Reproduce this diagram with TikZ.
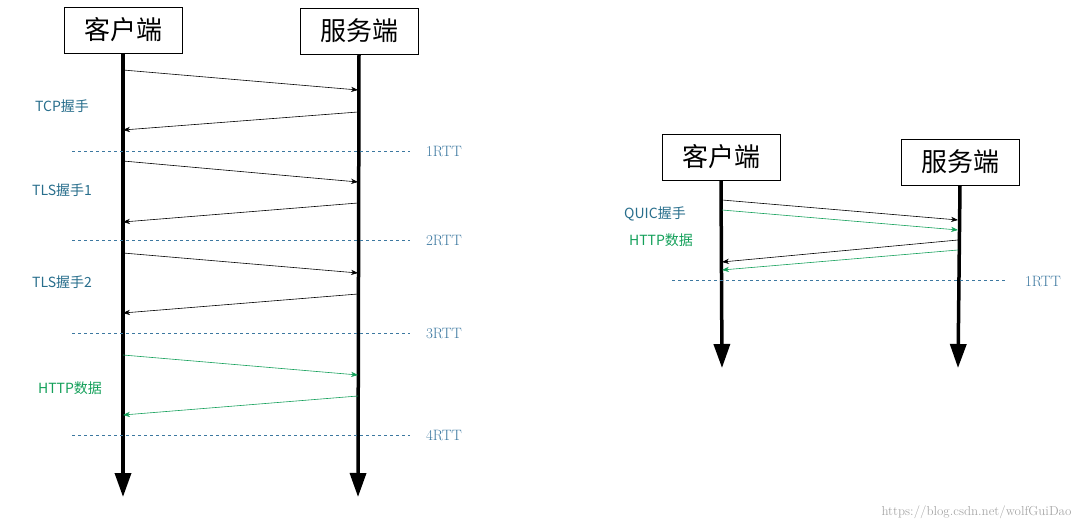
\documentclass[tikz,border=0pt]{standalone}
\usepackage{fontspec}
\newfontfamily\cjk{Noto Sans CJK SC}
\usetikzlibrary{arrows.meta,positioning}
\definecolor{tealtext}{RGB}{40,110,140}
\definecolor{msggreen}{RGB}{20,160,90}
\definecolor{rttblue}{RGB}{60,120,160}
\tikzset{
  party/.style={draw,line width=0.8pt,font=\cjk\fontsize{26}{28}\selectfont,inner sep=2pt,minimum width=118pt,minimum height=46pt},
  life/.style={line width=3.5pt,-{Triangle[length=24pt,width=16pt]}},
  msg/.style={-{Stealth[length=7pt]},line width=0.6pt},
  data/.style={msg,msggreen},
  rtt/.style={dashed,rttblue,line width=0.7pt},
  phase/.style={tealtext,font=\cjk\fontsize{14}{16}\selectfont},
  rttlabel/.style={rttblue,font=\fontsize{15}{17}\selectfont}
}
\begin{document}
\begin{tikzpicture}[x=1pt,y=-1pt]
\useasboundingbox (0,0) rectangle (1080,530);
% left: TCP + TLS
\node[party] (c1) at (123,30) {客户端};
\node[party] (s1) at (359,31) {服务端};
\coordinate (c1end) at (123,497);
\coordinate (s1end) at (358,497);
\draw[life] (c1.south) -- (c1end);
\draw[life] (s1.south) -- (s1end);
\foreach \y/\z [count=\i] in {70/90,161/182,253/273}{
  \coordinate (a\i) at (123,\y); \coordinate (b\i) at (358,\z);
  \draw[msg] (a\i) -- (b\i);
}
\foreach \y/\z [count=\i] in {112/130,203/222,294/313}{
  \coordinate (p\i) at (358,\y); \coordinate (q\i) at (123,\z);
  \draw[msg] (p\i) -- (q\i);
}
\coordinate (a4) at (123,355); \coordinate (b4) at (358,375);
\draw[data] (a4) -- (b4);
\coordinate (p4) at (358,396); \coordinate (q4) at (123,415);
\draw[data] (p4) -- (q4);
\foreach \y/\t in {151/1RTT,240/2RTT,333/3RTT,435/4RTT}{
  \coordinate (l\t) at (72,\y); \coordinate (r\t) at (410,\y);
  \draw[rtt] (l\t) -- (r\t);
  \node[rttlabel] (n\t) at (444,\y) {\t};
}
\node[phase] (tcp) at (62,106) {TCP握手};
\node[phase] (tls1) at (62,190) {TLS握手1};
\node[phase] (tls2) at (62,282) {TLS握手2};
\node[phase,msggreen] (http1) at (70,388) {HTTP数据};
% right: QUIC
\node[party] (c2) at (721,157) {客户端};
\node[party] (s2) at (960,162) {服务端};
\coordinate (c2end) at (722,368);
\coordinate (s2end) at (958,368);
\draw[life] (c2.south) -- (c2end);
\draw[life] (s2.south) -- (s2end);
\coordinate (qa) at (722,200); \coordinate (qb) at (958,220);
\draw[msg] (qa) -- (qb);
\coordinate (qc) at (722,210); \coordinate (qd) at (958,230);
\draw[data] (qc) -- (qd);
\coordinate (qe) at (958,240); \coordinate (qf) at (722,262);
\draw[msg] (qe) -- (qf);
\coordinate (qg) at (958,250); \coordinate (qh) at (722,270);
\draw[data] (qg) -- (qh);
\coordinate (ql) at (672,280); \coordinate (qr) at (1005,280);
\draw[rtt] (ql) -- (qr);
\node[rttlabel] (q1rtt) at (1043,281) {1RTT};
\node[phase] (quic) at (655,214) {QUIC握手};
\node[phase,msggreen] (http2) at (661,240) {HTTP数据};
\node[gray!70,font=\fontsize{13}{15}\selectfont,anchor=east] (mark) at (1075,512) {https://blog.csdn.net/wolfGuiDao};
\end{tikzpicture}
\end{document}
